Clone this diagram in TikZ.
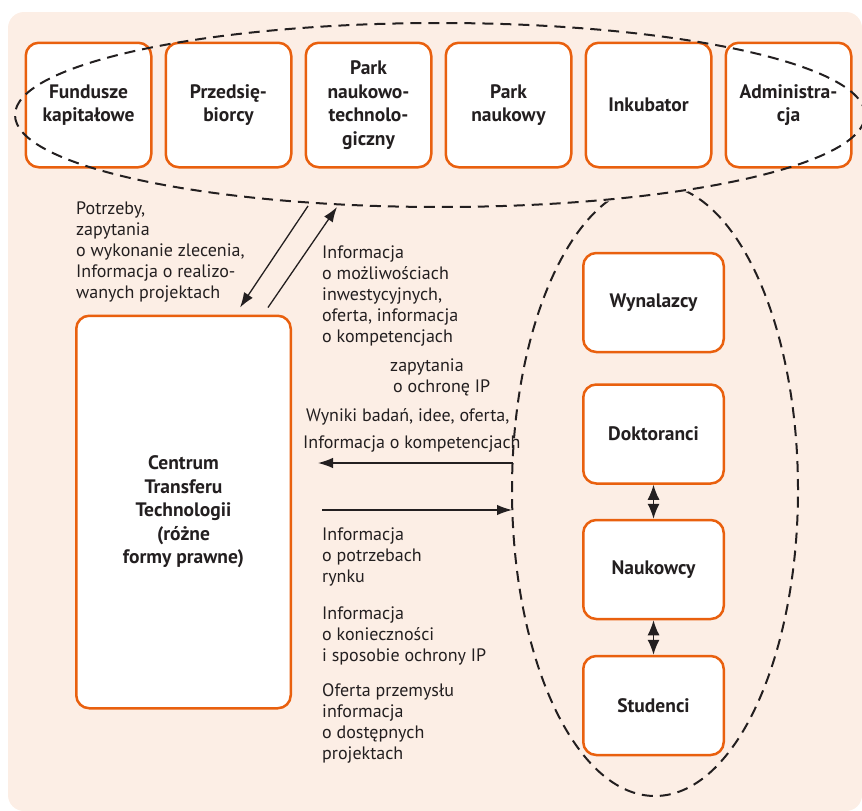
\documentclass[tikz,border=0pt]{standalone}
\usepackage{fontspec}
\setmainfont{PT Sans}
\usetikzlibrary{positioning,arrows.meta,shapes.geometric}
\definecolor{tlo}{HTML}{FCEEE5}
\definecolor{pomar}{HTML}{E9600E}
\definecolor{tusz}{HTML}{231F20}
\begin{document}
\begin{tikzpicture}[x=1pt, y=-1pt, line join=round, >={Latex[length=15pt,width=10.5pt]}]
	\tikzset{blok/.style={draw=pomar, line width=2.5pt, fill=white, rounded corners=13pt, inner sep=0pt, align=center, text=tusz, font=\bfseries\fontsize{19.5}{23.5}\selectfont},
		opis/.style={anchor=north west, inner sep=0pt, align=left, text=tusz, font=\fontsize{18}{21}\selectfont, execute at begin node=\strut},
		grupa/.style={ellipse, draw=tusz, line width=2pt, dash pattern=on 11pt off 7pt, inner sep=0pt},
		strz/.style={->, draw=tusz, line width=1.3pt},
		dwu/.style={{Latex[length=15pt,width=12pt]}-{Latex[length=15pt,width=12pt]}, draw=tusz, line width=1.3pt}}
	\useasboundingbox (0,0) rectangle (862,811);
	\fill[tlo, rounded corners=16pt] (8,12) rectangle (862,811);
	% gorny rzad
	\foreach \n/\x/\t in {fk/88.5/{Fundusze\\kapitałowe}, pr/228.5/{Przedsię-\\biorcy}, pnt/368.5/{Park\\naukowo-\\technolo-\\giczny}, pn/508.5/{Park\\naukowy}, ink/648.5/{Inkubator}, adm/788.5/{Administra-\\cja}}
		\node[blok, minimum width=125.5pt, minimum height=124.5pt] (\n) at (\x,105) {\t};
	\node[grupa, minimum width=850pt, minimum height=184pt] (otoczenie) at (440,115) {};
	% uczelnia
	\foreach \n/\y/\t in {wyn/302.5/Wynalazcy, dok/434/Doktoranci, nau/569.5/Naukowcy, stu/705.5/Studenci}
		\node[blok, minimum width=140.5pt, minimum height=99pt] (\n) at (653.5,\y) {\t};
	\begin{scope}[even odd rule]
		\clip (0,0) rectangle (862,811) (440,115) ellipse [x radius=427, y radius=94];
		\node[grupa, minimum width=286pt, minimum height=612pt] (uczelnia) at (655,490) {};
	\end{scope}
	\node[blok, minimum width=214.5pt, minimum height=392.5pt] (ctt) at (183.5,512) {Centrum\\Transferu\\Technologii\\(różne\\formy prawne)};
	% strzalki
	\coordinate (g1) at (308,206);
	\coordinate (g2) at (337,207);
	\coordinate (p1) at (513,463);
	\coordinate (p2) at (512,510);
	\draw[strz] (g1) -- ([xshift=56.5pt,yshift=7pt]ctt.north);
	\draw[strz] ([xshift=84.5pt,yshift=7pt]ctt.north) -- (g2);
	\draw[strz] (p1) -- ([xshift=26pt]p1 -| ctt.east);
	\draw[strz] ([xshift=30pt]p2 -| ctt.east) -- (p2);
	\draw[dwu] (dok) -- (nau);
	\draw[dwu] (nau) -- (stu);
	% opisy
	\node[opis] (t1) at (76,201.3) {Potrzeby,\\zapytania\\o wykonanie zlecenia,\\Informacja o realizo-\\wanych projektach};
	\node[opis] (t2) at (322,245.3) {Informacja\\o możliwościach\\inwestycyjnych,\\oferta, informacja\\o kompetencjach};
	\node[opis] (t3) at (390,358.3) {zapytania\\\hspace*{3pt}o ochronę IP};
	\node[opis] (t4) at (303,408.3) {\hspace*{3pt}Wyniki badań, idee, oferta,\\[6pt]Informacja o kompetencjach};
	\node[opis] (t5) at (322,527.3) {Informacja\\o potrzebach\\rynku};
	\node[opis] (t6) at (322,606.3) {Informacja\\o konieczności\\i sposobie ochrony IP};
	\node[opis] (t7) at (322,683.3) {Oferta przemysłu\\informacja\\o dostępnych\\projektach};
\end{tikzpicture}
\end{document}
